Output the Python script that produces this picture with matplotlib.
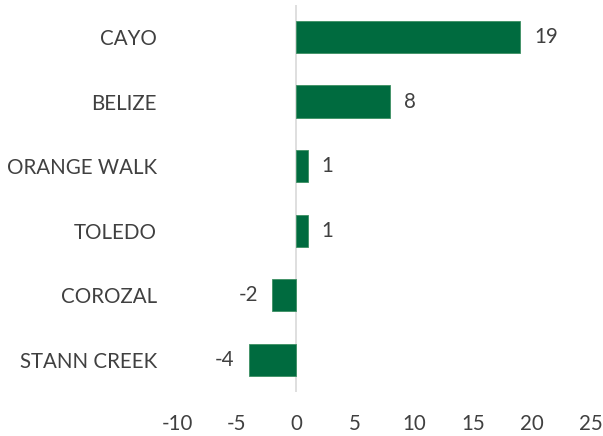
import matplotlib
matplotlib.use("Agg")
import matplotlib.pyplot as plt

districts = ["CAYO", "BELIZE", "ORANGE WALK", "TOLEDO", "COROZAL", "STANN CREEK"]
values = [19, 8, 1, 1, -2, -4]

green = "#006B3F"
grey_text = "#404040"

plt.rcParams["font.family"] = ["Lato", "DejaVu Sans"]
plt.rcParams["axes.unicode_minus"] = False

fig, ax = plt.subplots(figsize=(6.03, 4.36), dpi=100)
fig.subplots_adjust(left=0.295, right=0.980, top=0.989, bottom=0.101)

pos = list(range(len(districts)))
ax.barh(pos, values, height=0.5, color=green, edgecolor="#3d8f63", linewidth=0.6, zorder=2)

for y, v in zip(pos, values):
    if v >= 0:
        ax.text(v + 1.2, y, str(v), va="center", ha="left", fontsize=14.8, color=grey_text)
    else:
        ax.text(v - 1.2, y, str(v), va="center", ha="right", fontsize=14.8, color=grey_text)

ax.set_ylim(len(districts) - 0.5, -0.5)
ax.set_xlim(-10, 25)
ax.set_xticks(range(-10, 26, 5))
ax.set_yticks(pos)
ax.set_yticklabels(districts)

ax.axvline(0, color="#d9d9d9", linewidth=1.2, zorder=1)

for s in ax.spines.values():
    s.set_visible(False)
ax.tick_params(axis="both", length=0, labelsize=14.8, colors=grey_text)
ax.tick_params(axis="y", pad=15)
ax.tick_params(axis="x", pad=16)

fig.savefig("out.png", dpi=100)
